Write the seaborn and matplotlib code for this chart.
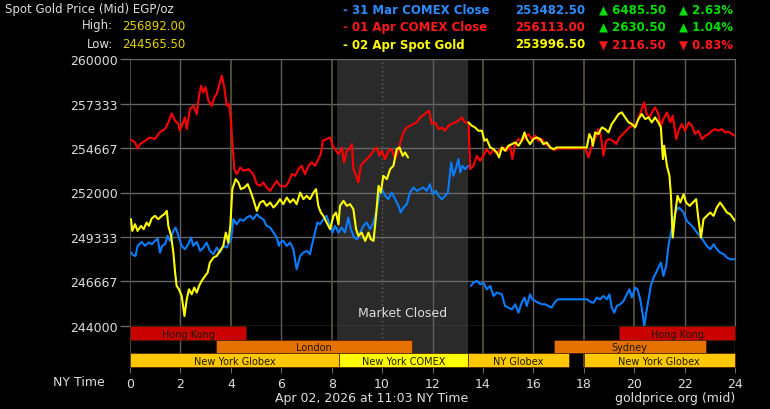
import matplotlib
matplotlib.use("Agg")
import matplotlib.pyplot as plt
import matplotlib.transforms as mtrans
import seaborn as sns

# ---- data (hours NY time, price EGP/oz) ----
red_h = [0.04, 0.2, 0.3, 0.4, 0.6, 0.79, 0.99, 1.12, 1.26, 1.39, 1.52, 1.65, 1.79, 1.92,
         1.98, 2.08, 2.18, 2.25, 2.38, 2.51, 2.65, 2.74, 2.82, 2.91, 3.0, 3.11, 3.24, 3.35,
         3.44, 3.53, 3.64, 3.74, 3.84, 3.93, 4.01, 4.06, 4.14, 4.23, 4.37, 4.5, 4.7, 4.89,
         5.03, 5.16, 5.29, 5.42, 5.56, 5.69, 5.82, 5.95, 6.15, 6.28, 6.42, 6.55, 6.68, 6.81,
         6.94, 7.08, 7.21, 7.34, 7.47, 7.57, 7.65, 7.8, 7.94, 8.04, 8.13, 8.27, 8.4, 8.49,
         8.6, 8.7, 8.8, 8.86, 8.97, 9.06, 9.15, 9.26, 9.39, 9.52, 9.66, 9.79, 9.89, 9.99,
         10.12, 10.25, 10.38, 10.52, 10.65, 10.74, 10.85, 10.98, 11.11, 11.24, 11.38, 11.51,
         11.64, 11.77, 11.87, 11.97, 12.1, 12.24, 12.37, 12.5, 12.63, 12.76, 12.9, 13.03,
         13.16, 13.29, 13.43, 13.49, 13.62, 13.76, 13.89, 14.02, 14.15, 14.29, 14.42, 14.55,
         14.68, 14.81, 14.95, 15.08, 15.17, 15.28, 15.41, 15.54, 15.67, 15.81, 15.94, 16.07,
         16.2, 16.34, 16.47, 16.6, 16.73, 16.87, 17.0, 18.06, 18.19, 18.32, 18.45, 18.58,
         18.68, 18.78, 18.89, 19.02, 19.15, 19.29, 19.42, 19.55, 19.68, 19.81, 19.95, 20.08,
         20.21, 20.3, 20.4, 20.5, 20.61, 20.74, 20.83, 20.96, 21.06, 21.16, 21.3, 21.43,
         21.53, 21.67, 21.76, 21.89, 22.02, 22.16, 22.29, 22.42, 22.55, 22.69, 22.82, 22.95,
         23.08, 23.21, 23.35, 23.48, 23.61, 23.74, 23.88, 24.0]
red_v = [255160, 255000, 254640, 254900, 255100, 255300, 255200, 255500, 255700, 255800,
         256200, 256740, 256300, 256100, 255700, 256100, 256500, 255800, 257000, 257200,
         256700, 257800, 258400, 258000, 258300, 257500, 257200, 257700, 257900, 258400,
         259000, 258300, 257200, 257300, 256200, 255000, 253400, 253100, 253500, 253300,
         253400, 253100, 252500, 252400, 252600, 252300, 252100, 252400, 252700, 252400,
         252360, 252600, 253100, 253000, 253400, 253600, 253100, 253600, 253800, 253600,
         254000, 254300, 255100, 255200, 255300, 254800, 254600, 254300, 254700, 253800,
         254500, 254600, 254900, 253400, 253000, 252600, 253600, 253800, 254000, 254200,
         254500, 254700, 254200, 254500, 254000, 254500, 254600, 254000, 254500, 255100,
         255600, 255900, 256000, 256100, 256200, 256500, 256640, 256800, 256900, 256100,
         256200, 255800, 255900, 255700, 256000, 256100, 256200, 256300, 256500, 256200,
         256200, 253400, 253600, 254200, 253900, 254200, 254600, 254300, 254600, 254300,
         254600, 254700, 254500, 254800, 254000, 254900, 255200, 255100, 255300, 255500,
         255200, 255400, 255100, 255200, 254900, 254800, 254600, 254560, 254640, 254640,
         254100, 254800, 255200, 255800, 255400, 254200, 255100, 255200, 255100, 254900,
         255300, 255500, 255700, 255900, 256000, 256100, 256600, 257000, 257400, 256700,
         256500, 256900, 257100, 256700, 256000, 256400, 256800, 256200, 256600, 255200,
         255700, 256100, 255700, 256200, 256000, 255500, 255700, 255200, 255400, 255500,
         255700, 255800, 255700, 255800, 255600, 255640, 255500, 255400]

blue1_h = [0.04, 0.13, 0.22, 0.3, 0.46, 0.6, 0.73, 0.86, 0.99, 1.1, 1.19, 1.28, 1.39, 1.49,
           1.59, 1.72, 1.81, 1.92, 2.05, 2.18, 2.31, 2.42, 2.51, 2.65, 2.78, 2.91, 3.04,
           3.17, 3.31, 3.44, 3.57, 3.7, 3.84, 3.93, 4.01, 4.1, 4.23, 4.37, 4.5, 4.63, 4.76,
           4.89, 5.03, 5.16, 5.29, 5.42, 5.56, 5.69, 5.82, 5.91, 5.95, 6.08, 6.22, 6.35,
           6.48, 6.61, 6.75, 6.88, 7.01, 7.14, 7.21, 7.34, 7.43, 7.54, 7.67, 7.8, 7.94, 8.04,
           8.13, 8.27, 8.4, 8.53, 8.66, 8.76, 8.89, 9.02, 9.13, 9.26, 9.39, 9.52, 9.66, 9.79,
           9.89, 9.99, 10.12, 10.25, 10.38, 10.52, 10.65, 10.74, 10.85, 10.98, 11.11, 11.24,
           11.38, 11.51, 11.64, 11.77, 11.9, 12.0, 12.14, 12.24, 12.37, 12.5, 12.61, 12.67,
           12.74, 12.83, 12.92, 13.03, 13.1, 13.19, 13.29, 13.43]
blue1_v = [248400, 248240, 248200, 248800, 249040, 248800, 249000, 248900, 249100, 249240,
           248400, 248800, 248900, 249400, 249100, 249700, 249900, 249400, 248800, 248600,
           248900, 249300, 248800, 249040, 248500, 248700, 249000, 248500, 248300, 248700,
           248400, 248800, 248700, 249000, 249200, 250400, 250100, 250400, 250300, 250500,
           250600, 250400, 250700, 250500, 250400, 250000, 249900, 249600, 249300, 248800,
           249000, 249100, 248800, 249000, 248600, 247400, 248200, 248400, 248500, 248300,
           248800, 249600, 250200, 250100, 250400, 250600, 250000, 249600, 250000, 249600,
           249900, 249600, 250500, 249800, 249300, 249200, 249600, 250000, 250200, 249800,
           250200, 251000, 251800, 252200, 251800, 251600, 252000, 251600, 251200, 250800,
           251100, 251300, 252000, 252300, 252100, 252200, 252300, 252100, 252500, 251900,
           252100, 251800, 251600, 251800, 252000, 252800, 253800, 253000, 253400, 254000,
           253200, 253600, 253400, 253600]

blue2_h = [13.52, 13.62, 13.76, 13.89, 14.02, 14.15, 14.29, 14.42, 14.55, 14.75, 14.88,
           15.01, 15.15, 15.28, 15.41, 15.54, 15.65, 15.74, 15.87, 15.96, 16.07, 16.2,
           16.34, 16.47, 16.6, 16.73, 16.84, 16.97, 18.12, 18.22, 18.32, 18.39, 18.52,
           18.65, 18.78, 18.92, 19.02, 19.11, 19.21, 19.31, 19.44, 19.58, 19.71, 19.81,
           19.91, 20.04, 20.13, 20.24, 20.33, 20.4, 20.48, 20.57, 20.66, 20.77, 20.87, 20.96,
           21.06, 21.16, 21.27, 21.36, 21.46, 21.56, 21.67, 21.76, 21.85, 21.96, 22.09,
           22.22, 22.35, 22.49, 22.62, 22.75, 22.88, 23.02, 23.15, 23.28, 23.41, 23.55,
           23.68, 23.81, 24.0]
blue2_v = [246400, 246600, 246700, 246500, 246600, 246200, 246400, 245800, 246000, 245900,
           245200, 245100, 245000, 245300, 244800, 245400, 245700, 245200, 245900, 245600,
           245500, 245400, 245300, 245300, 245200, 245100, 245400, 245600, 245600, 245500,
           245400, 245400, 245700, 245600, 245800, 245600, 245900, 245100, 244800, 245200,
           245300, 245500, 245900, 246200, 245700, 246300, 246200, 245600, 244800, 244000,
           244800, 245600, 246400, 246900, 247200, 247500, 247800, 247000, 247600, 248800,
           249600, 250400, 250900, 251100, 251000, 250800, 250300, 250100, 249900, 249600,
           249400, 249100, 248800, 248600, 248900, 248600, 248400, 248300, 248100, 248000,
           248000]

yel1_h = [0.04, 0.09, 0.2, 0.3, 0.44, 0.54, 0.66, 0.75, 0.86, 0.99, 1.12, 1.26, 1.36, 1.46,
          1.52, 1.63, 1.72, 1.79, 1.85, 1.94, 2.05, 2.16, 2.25, 2.34, 2.45, 2.55, 2.65, 2.74,
          2.84, 2.98, 3.08, 3.17, 3.31, 3.44, 3.57, 3.7, 3.8, 3.9, 3.98, 4.06, 4.19, 4.3,
          4.4, 4.54, 4.67, 4.8, 4.89, 5.03, 5.16, 5.29, 5.42, 5.56, 5.69, 5.82, 5.95, 6.08,
          6.22, 6.35, 6.48, 6.61, 6.75, 6.88, 7.01, 7.14, 7.28, 7.38, 7.47, 7.57, 7.67, 7.8,
          7.94, 8.07, 8.17, 8.27, 8.33, 8.47, 8.6, 8.73, 8.86, 8.97, 9.06, 9.19, 9.33, 9.46,
          9.55, 9.66, 9.76, 9.86, 9.95, 10.05, 10.19, 10.32, 10.45, 10.58, 10.69, 10.82,
          10.91, 11.03]
yel1_v = [250400, 249700, 250100, 249700, 250000, 249800, 250200, 250000, 250440, 250600,
          250400, 250600, 250700, 250900, 250000, 249400, 248400, 247200, 246400, 246200,
          245800, 244600, 245600, 246200, 245900, 246300, 246000, 246400, 246700, 247000,
          247200, 247800, 248100, 248200, 248500, 248800, 249600, 249000, 250000, 252200,
          252800, 252600, 252200, 252300, 252500, 252000, 251600, 250900, 251400, 251500,
          251200, 251400, 251100, 251300, 251600, 251300, 251700, 251400, 251600, 251300,
          252000, 251600, 251800, 251600, 252000, 252200, 251200, 250800, 250600, 250200,
          249800, 250600, 250800, 250100, 251200, 251500, 251200, 251300, 251000, 249800,
          249400, 249600, 249100, 249600, 249200, 249100, 250600, 252400, 252000, 253000,
          252800, 253400, 253600, 254600, 254700, 254200, 254400, 254100]

yel2_h = [13.43, 13.56, 13.69, 13.82, 13.96, 14.06, 14.15, 14.29, 14.42, 14.55, 14.64,
          14.75, 14.88, 15.01, 15.15, 15.28, 15.41, 15.54, 15.65, 15.74, 15.87, 16.0, 16.14,
          16.27, 16.4, 16.53, 16.67, 16.8, 16.93, 18.12, 18.22, 18.32, 18.36, 18.45, 18.58,
          18.72, 18.85, 18.98, 19.11, 19.25, 19.38, 19.51, 19.64, 19.78, 19.91, 20.04, 20.17,
          20.3, 20.44, 20.57, 20.7, 20.83, 20.96, 21.06, 21.14, 21.19, 21.3, 21.4, 21.46,
          21.53, 21.63, 21.72, 21.83, 21.96, 22.06, 22.2, 22.33, 22.46, 22.55, 22.65, 22.75,
          22.88, 23.02, 23.15, 23.28, 23.41, 23.55, 23.68, 23.81, 24.0]
yel2_v = [256200, 256000, 255900, 255700, 255700, 255100, 255200, 254700, 254600, 254400,
          254100, 254700, 254500, 254800, 254900, 255000, 254800, 255100, 255600, 255200,
          254900, 255200, 255300, 255200, 254900, 255000, 254700, 254600, 254700, 254700,
          255500, 255200, 254800, 255600, 255500, 255900, 255800, 255600, 256100, 256400,
          256700, 256800, 256500, 256200, 256100, 255900, 256400, 256700, 256400, 256500,
          256200, 256500, 256200, 255900, 254000, 254800, 253600, 253000, 251800, 249300,
          250800, 251800, 251400, 251900, 251400, 251200, 251400, 251600, 250400, 249300,
          250400, 250600, 250800, 250600, 251100, 251400, 251100, 250800, 250700, 250300]

# trading sessions
sess_row = [0, 0, 1, 1, 2, 2, 2, 2]
sess_start = [0, 19.4, 3.4, 16.8, 0, 8.3, 13.42, 18.0]
sess_end = [4.62, 24, 11.2, 22.85, 8.3, 13.42, 17.4, 24]
sess_label = ["Hong Kong", "Hong Kong", "London", "Sydney", "New York Globex",
              "New York COMEX", "NY Globex", "New York Globex"]
sess_color = ["#c80000", "#c80000", "#e57200", "#e57200", "#ffc800", "#ffff00",
              "#ffc800", "#ffc800"]
closed_start, closed_end = 8.22, 13.42

y_ticks = [244000, 246667, 249333, 252000, 254667, 257333, 260000]
x_ticks = list(range(0, 25, 2))

BLUE, RED, YEL, GREEN = "#0a7cff", "#ff0000", "#ffff00", "#00dd00"

sns.set_style("dark")
plt.rcParams["font.family"] = ["DejaVu Sans"]

W, H = 770, 410
fig = plt.figure(figsize=(W / 100, H / 100), dpi=100, facecolor="black")
ax = fig.add_axes([130 / W, (H - 327) / H, 605 / W, 267 / H], facecolor="black")
axb = fig.add_axes([130 / W, (H - 368) / H, 605 / W, 41 / H], facecolor="black")

# market closed shading (main plot + upper two band rows)
ax.axvspan(closed_start, closed_end, color="#2a2a2a", lw=0, zorder=0)
axb.broken_barh([(closed_start, closed_end - closed_start)], (-0.5, 2),
                color="#2a2a2a", lw=0, zorder=0)

# vertical grid (session markers in olive)
olive = [0, 4, 8, 14, 18, 20]
for h in x_ticks:
    if h in olive:
        kw = dict(color="#5c5838", lw=1.2)
    elif h == 10:
        kw = dict(color="#6a6540", lw=1, ls=(0, (1, 2)))
    else:
        kw = dict(color="#5e5e5e", lw=1)
    ax.axvline(h, zorder=1, **kw)
    axb.axvline(h, zorder=1, **kw)

ax.set_yticks(y_ticks)
ax.set_yticklabels([str(v) for v in y_ticks])
ax.yaxis.grid(True, color="#666666", lw=1)
ax.set_axisbelow(True)
ax.set_xlim(0, 24)
ax.set_ylim(244000, 260000)
ax.set_xticks([])
ax.tick_params(axis="y", colors="#666666", labelcolor="#dddddd", labelsize=9,
               length=7, width=1, pad=2, left=True)
for s in ["top", "right", "bottom"]:
    ax.spines[s].set_visible(True)
    ax.spines[s].set_color("#666666")
ax.spines["left"].set_visible(False)

for hh, vv, c in [(blue1_h, blue1_v, BLUE), (blue2_h, blue2_v, BLUE),
                  (red_h, red_v, RED), (yel1_h, yel1_v, YEL), (yel2_h, yel2_v, YEL)]:
    sns.lineplot(x=hh, y=vv, ax=ax, color=c, lw=1.5, estimator=None, sort=False, zorder=3)
ax.set_xlabel("")
ax.set_ylabel("")

ax.text((closed_start + closed_end) / 2, 0.025, "Market Closed", color="#dddddd",
        fontsize=9, ha="center", va="bottom",
        transform=mtrans.blended_transform_factory(ax.transData, ax.transAxes))

# session bands
for r, s0, s1, lab, c in zip(sess_row, sess_start, sess_end, sess_label, sess_color):
    axb.broken_barh([(s0, s1 - s0)], (r - 0.5, 1), facecolor=c,
                    edgecolor="#4a1a00", lw=0.5, zorder=2)
    axb.text((s0 + s1) / 2, r + 0.05, lab, ha="center", va="center", fontsize=7,
             color="#1a1a00", zorder=3)
axb.set_xlim(0, 24)
axb.set_ylim(2.5, -0.5)
axb.set_yticks([])
axb.set_xticks(x_ticks)
axb.tick_params(axis="x", colors="#666666", labelcolor="#dddddd", labelsize=9,
                length=4, pad=3, bottom=True)
for s in axb.spines.values():
    s.set_visible(False)

# header / footer text
def ftext(x, y, s, **kw):
    fig.text(x / W, 1 - y / H, s, **kw)

ftext(5, 9, "Spot Gold Price (Mid) EGP/oz", color="#dddddd", fontsize=8.5, va="center")
ftext(113, 26, "High:", color="#dddddd", fontsize=8.5, va="center", ha="right")
ftext(122, 26, "256892.00", color="#e6d200", fontsize=8.5, va="center")
ftext(113, 44, "Low:", color="#dddddd", fontsize=8.5, va="center", ha="right")
ftext(122, 44, "244565.50", color="#e6d200", fontsize=8.5, va="center")

rows = [("- 31 Mar COMEX Close", "253482.50", "\u25b2 6485.50", "\u25b2 2.63%", "#2b8cff", GREEN),
        ("- 01 Apr COMEX Close", "256113.00", "\u25b2 2630.50", "\u25b2 1.04%", "#ff1a1a", GREEN),
        ("- 02 Apr Spot Gold", "253996.50", "\u25bc 2116.50", "\u25bc 0.83%", YEL, "#ff1a1a")]
for i, (lab, val, chg, pct, c, cc) in enumerate(rows):
    y = 10 + i * 17.5
    ftext(343, y, lab, color=c, fontsize=8.5, fontweight="bold", va="center")
    ftext(515, y, val, color=c, fontsize=8.5, fontweight="bold", va="center")
    ftext(599, y, chg, color=cc, fontsize=8.5, fontweight="bold", va="center")
    ftext(679, y, pct, color=cc, fontsize=8.5, fontweight="bold", va="center")

ftext(105, 383, "NY Time", color="#dddddd", fontsize=9, va="center", ha="right")
ftext(372, 399, "Apr 02, 2026 at 11:03 NY Time", color="#dddddd", fontsize=9,
      va="center", ha="center")
ftext(735, 399, "goldprice.org (mid)", color="#dddddd", fontsize=9, va="center", ha="right")

fig.savefig("out.png", dpi=100, facecolor="black")
